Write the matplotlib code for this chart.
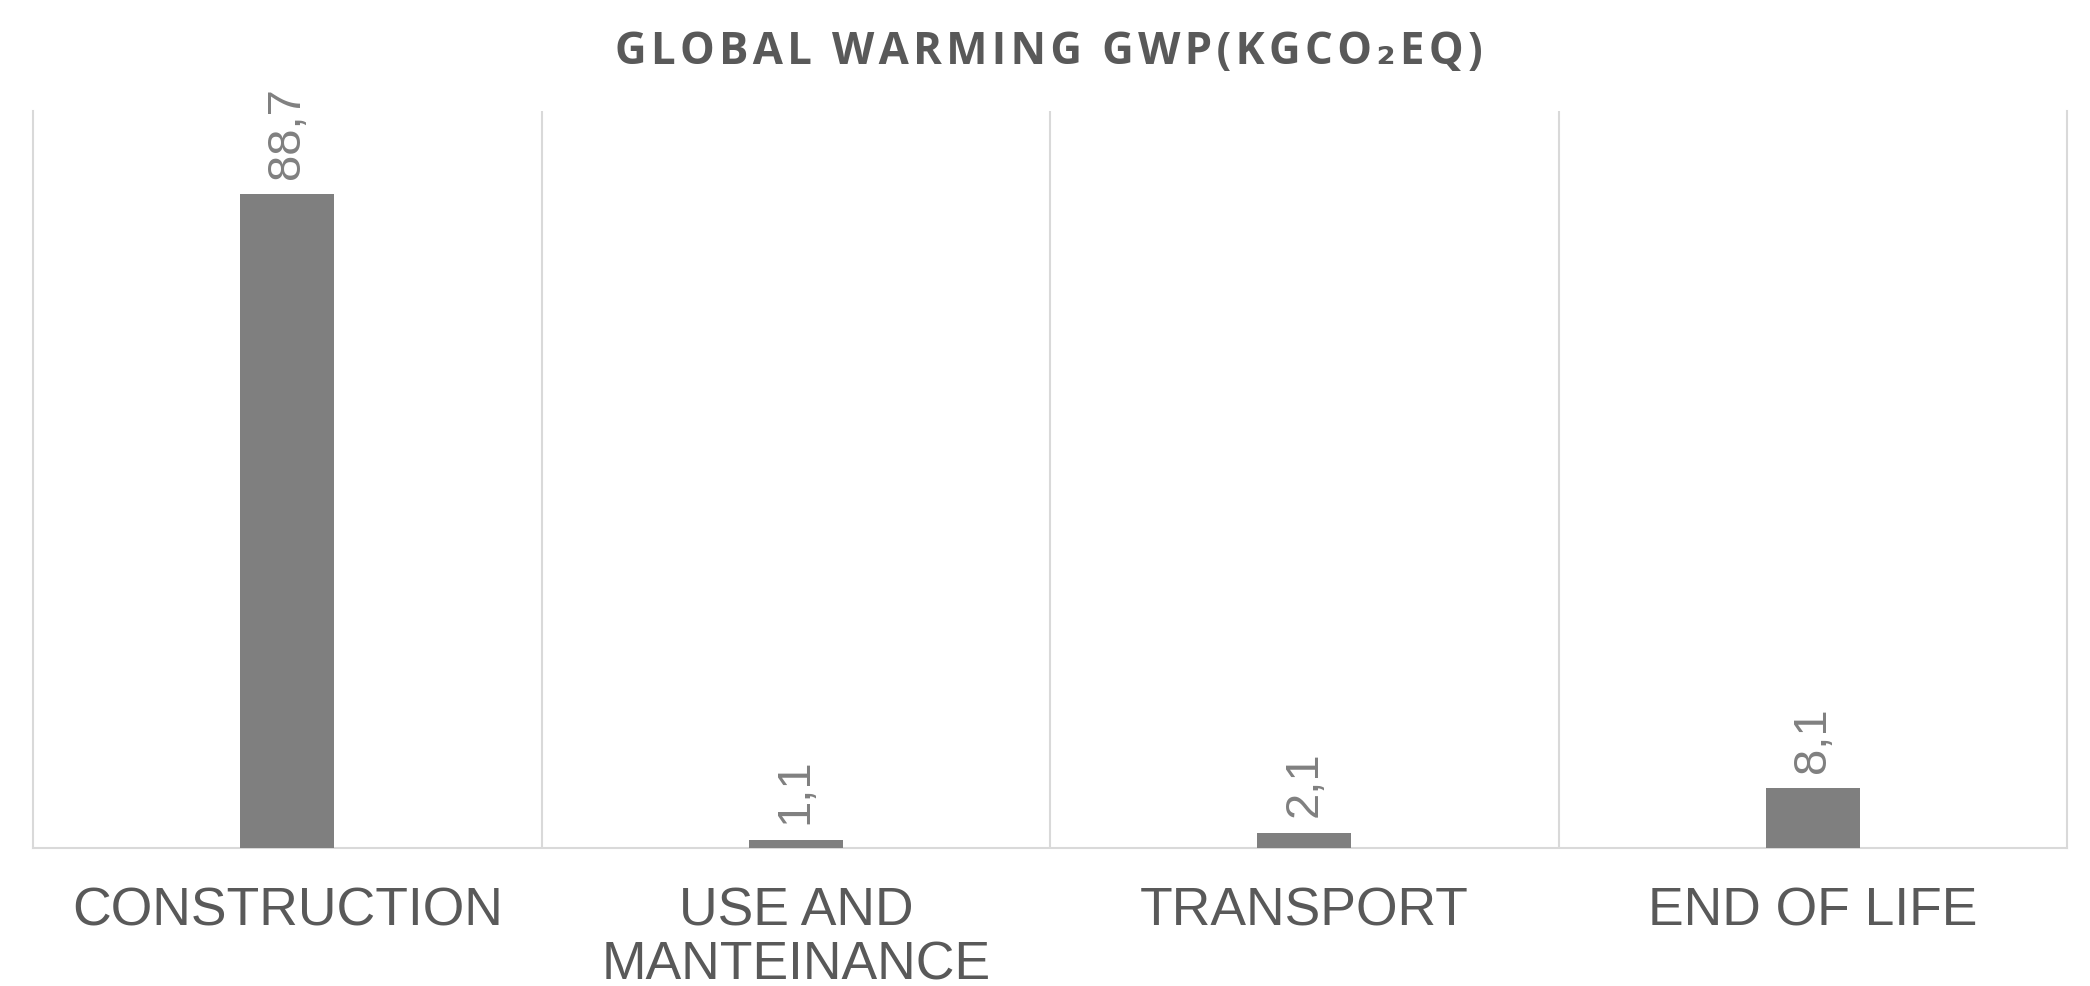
import matplotlib
matplotlib.use("Agg")
import matplotlib.pyplot as plt
from matplotlib import font_manager

categories = ["CONSTRUCTION", "USE AND\nMANTEINANCE", "TRANSPORT", "END OF LIFE"]
values = [88.7, 1.1, 2.1, 8.1]
title = "GLOBAL WARMING GWP(KGCO\u2082EQ)"

HS = "\u200a"


def spaced(s, n=1):
    return "\n".join((HS * n).join(line) for line in s.split("\n"))


names = {f.name for f in font_manager.fontManager.ttflist}
narrow = "Liberation Sans Narrow" if "Liberation Sans Narrow" in names else "Liberation Sans"

fig = plt.figure(figsize=(20.9, 9.87), dpi=100)
ax = fig.add_axes([0.0158, 0.1398, 0.9732, 0.7467])

x = range(len(categories))
bars = ax.bar(x, values, width=0.185, color="#7f7f7f", zorder=3)
ax.set_xlim(-0.5, len(categories) - 0.5)
ax.set_ylim(0, 100)

for b, v in zip(bars, values):
    ax.annotate(f"{v:.1f}".replace(".", ","),
                xy=(b.get_x() + b.get_width() / 2, b.get_height()),
                xytext=(0, 12), textcoords="offset points",
                rotation=90, ha="center", va="bottom",
                fontsize=34, color="#808080", family=[narrow, "DejaVu Sans"])

ax.set_yticks([])
ax.set_xticks(list(x))
ax.set_xticklabels(categories, fontsize=38.5, color="#595959",
                   family="Liberation Sans", linespacing=1.1)
ax.tick_params(axis="x", length=0, pad=27)
ax.set_xticks([i + 0.5 for i in range(len(categories) - 1)], minor=True)
ax.tick_params(axis="x", which="minor", length=0)
ax.grid(axis="x", which="minor", color="#d9d9d9", linewidth=1.5, zorder=0)

for s in ["left", "right", "bottom"]:
    ax.spines[s].set_color("#d9d9d9")
    ax.spines[s].set_linewidth(1.5)
ax.spines["top"].set_visible(False)

fig.text(0.502, 0.947, spaced(title, 1), ha="center", va="center", fontsize=31.5,
         fontweight="bold", color="#595959", family=["Open Sans", "DejaVu Sans"])

fig.savefig("out.png", dpi=100, facecolor="white")
